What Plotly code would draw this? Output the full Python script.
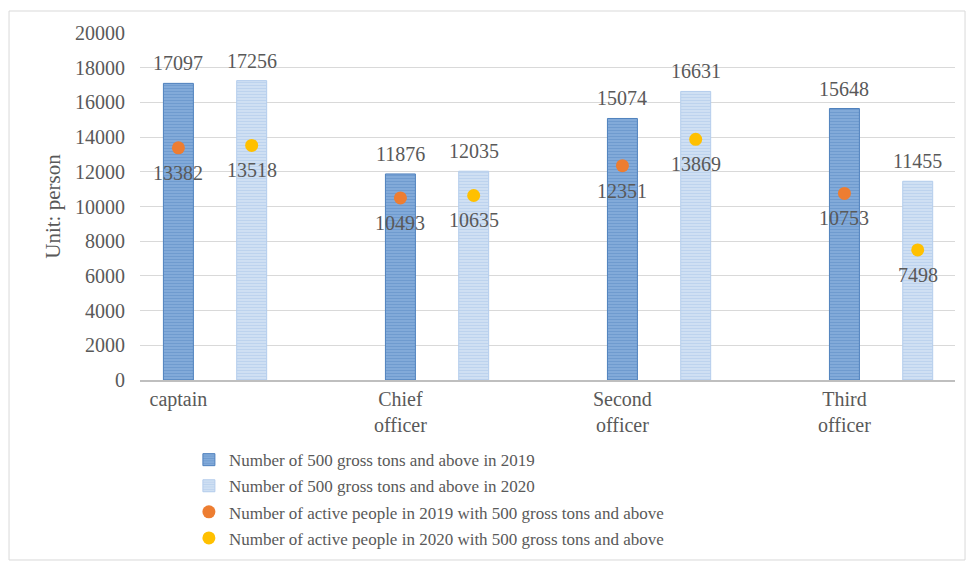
import plotly.graph_objects as go

# Seafarer counts by rank (unit: person)
ranks = ["captain", "Chief<br>officer", "Second<br>officer", "Third<br>officer"]
total_2019 = [17097, 11876, 15074, 15648]
total_2020 = [17256, 12035, 16631, 11455]
active_2019 = [13382, 10493, 12351, 10753]
active_2020 = [13518, 10635, 13869, 7498]

names = [
    "Number of 500 gross tons and above in 2019",
    "Number of 500 gross tons and above in 2020",
    "Number of active people in 2019 with 500 gross tons and above",
    "Number of active people in 2020 with 500 gross tons and above",
]

FONT = "Liberation Serif, DejaVu Serif, serif"
GREY = "#595959"

# Rank positions on a numeric axis: 2019 column sits on the tick, 2020 column to its right
pos = list(range(len(ranks)))
shift = 0.33
bar_w = 0.135
x19 = [p for p in pos]
x20 = [p + shift for p in pos]

fig = go.Figure()

fig.add_trace(go.Bar(
    x=x19, y=total_2019, name=names[0], width=bar_w, legendgroup="a",
    marker=dict(color="#8db3e2", line=dict(color="#4f81bd", width=1),
                pattern=dict(shape="-", fgcolor="#4f81bd", bgcolor="#8fb4e0",
                             size=3, solidity=0.6)),
))
fig.add_trace(go.Bar(
    x=x20, y=total_2020, name=names[1], width=bar_w, legendgroup="b",
    marker=dict(color="#d6e4f5", line=dict(color="#b4cdec", width=1),
                pattern=dict(shape="-", fgcolor="#9fbfe6", bgcolor="#dbe7f6",
                             size=3, solidity=0.6)),
))
fig.add_trace(go.Scatter(
    x=x19, y=active_2019, name=names[2], mode="markers", legendgroup="c",
    marker=dict(color="#ED7D31", size=13, line=dict(width=0)),
))
fig.add_trace(go.Scatter(
    x=x20, y=active_2020, name=names[3], mode="markers", legendgroup="d",
    marker=dict(color="#FFC000", size=13, line=dict(width=0)),
))

annotations = []
for xs, vals in ((x19, total_2019), (x20, total_2020)):
    for x, v in zip(xs, vals):
        annotations.append(dict(x=x, y=v, text=str(v), showarrow=False,
                                yanchor="bottom", yshift=7,
                                font=dict(family=FONT, size=20, color=GREY)))
for xs, vals in ((x19, active_2019), (x20, active_2020)):
    for x, v in zip(xs, vals):
        annotations.append(dict(x=x, y=v, text=str(v), showarrow=False,
                                yanchor="top", yshift=-12,
                                font=dict(family=FONT, size=20, color=GREY)))

fig.update_layout(
    width=968, height=561,
    margin=dict(l=140, r=13, t=33, b=181, autoexpand=False),
    paper_bgcolor="white", plot_bgcolor="white",
    font=dict(family=FONT, color=GREY, size=20),
    barmode="overlay",
    showlegend=True,
    legend=dict(x=0.06, y=-0.179, xanchor="left", yanchor="top",
                font=dict(family=FONT, size=17, color=GREY),
                tracegroupgap=1, itemwidth=30, traceorder="grouped",
                bgcolor="rgba(0,0,0,0)"),
    annotations=annotations,
    xaxis=dict(
        range=[-0.173, 3.498], tickmode="array", tickvals=pos, ticktext=ranks,
        showgrid=False, zeroline=False, showline=True, linecolor="#bfbfbf",
        linewidth=2, ticks="", tickfont=dict(family=FONT, size=20, color=GREY),
        ticklabelstandoff=0,
    ),
    yaxis=dict(
        range=[0, 20000], dtick=2000, tickformat="d", showgrid=True,
        gridcolor="#d9d9d9", gridwidth=1, zeroline=False, showline=False,
        ticks="", tickfont=dict(family=FONT, size=20, color=GREY),
        ticklabelstandoff=14,
        title=dict(text="Unit: person", standoff=8,
                   font=dict(family=FONT, size=21, color=GREY)),
    ),
    shapes=[dict(type="rect", xref="paper", yref="paper",
                 x0=-0.1607, x1=1.0123, y0=-0.5187, y1=1.0634,
                 line=dict(color="#d9d9d9", width=1), fillcolor="rgba(0,0,0,0)",
                 layer="below")],
)

fig.write_html("out.html")
